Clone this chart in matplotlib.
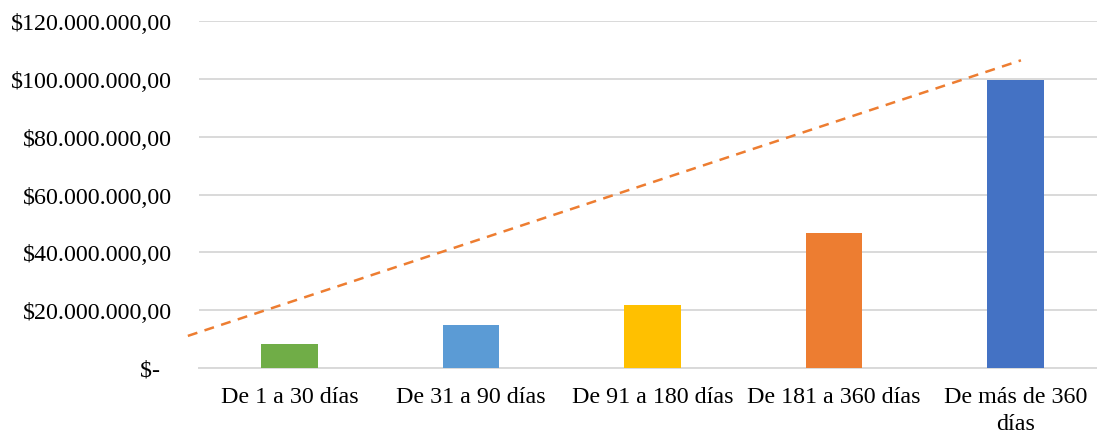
import matplotlib
matplotlib.use("Agg")
import matplotlib.pyplot as plt
from matplotlib.ticker import FuncFormatter

categories = ["De 1 a 30 días", "De 31 a 90 días", "De 91 a 180 días",
              "De 181 a 360 días", "De más de 360\ndías"]
values = [8.3e6, 14.9e6, 21.8e6, 46.7e6, 99.6e6]
bar_colors = ["#70AD47", "#5B9BD5", "#FFC000", "#ED7D31", "#4472C4"]

# trend line endpoints (category position, value)
trend_x = [-0.56, 4.03]
trend_y = [11.1e6, 106.4e6]

y_ticks = [0, 20e6, 40e6, 60e6, 80e6, 100e6, 120e6]

plt.rcParams["font.family"] = ["Liberation Serif", "DejaVu Serif"]

W, H = 1097, 435
fig = plt.figure(figsize=(W / 100, H / 100), dpi=100)
left_px, right_px = 198.75, 1106.25
bottom_px, top_px = 369, 22
ax = fig.add_axes([left_px / W, (H - bottom_px) / H,
                   (right_px - left_px) / W, (bottom_px - top_px) / H])

x = list(range(len(categories)))
ax.bar(x, values, width=0.314, color=bar_colors, zorder=3)
ax.plot(trend_x, trend_y, color="#ED7D31", lw=1.8, ls=(0, (4, 3)),
        clip_on=False, zorder=4)

ax.set_xlim(-0.5, len(categories) - 0.5)
ax.set_ylim(0, 120e6)
ax.set_yticks(y_ticks)


def fmt(v, pos):
    if v == 0:
        return "$-  "
    s = f"{v:,.2f}".replace(",", "X").replace(".", ",").replace("X", ".")
    return "$" + s


ax.yaxis.set_major_formatter(FuncFormatter(fmt))
ax.set_xticks(x)
ax.set_xticklabels(categories)

ax.grid(axis="y", color="#D9D9D9", lw=1.4, zorder=0)
for s in ["top", "right", "left"]:
    ax.spines[s].set_visible(False)
ax.spines["bottom"].set_color("#D9D9D9")
ax.spines["bottom"].set_linewidth(1.4)
ax.tick_params(axis="y", length=0, pad=19, labelsize=17.3, labelcolor="#000000")
ax.tick_params(axis="x", length=0, pad=13, labelsize=17.3, labelcolor="#000000")
for lab in ax.get_xticklabels():
    lab.set_linespacing(1.35)

fig.savefig("out.png", dpi=100)
